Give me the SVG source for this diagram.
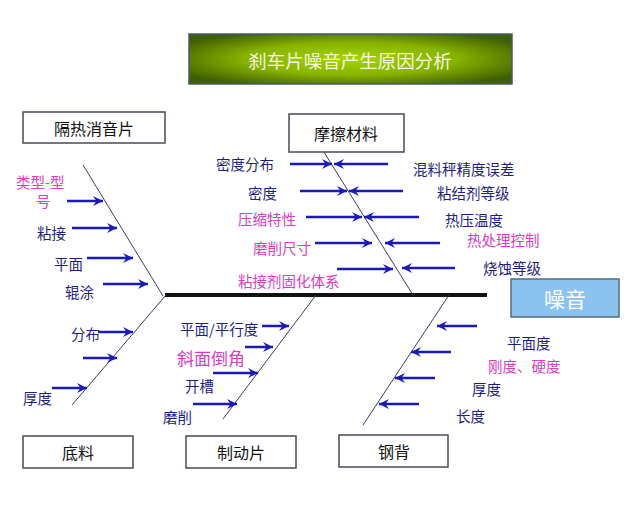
<svg xmlns="http://www.w3.org/2000/svg" width="640" height="512" viewBox="0 0 640 512">
<defs>
<radialGradient id="tg" cx="50%" cy="50%" r="60%">
<stop offset="0" stop-color="#a6d400"/>
<stop offset="0.55" stop-color="#86b200"/>
<stop offset="1" stop-color="#3f6000"/>
</radialGradient>
<marker id="ah" viewBox="0 0 10 10" refX="10" refY="5" markerWidth="11" markerHeight="10" markerUnits="userSpaceOnUse" orient="auto">
<path d="M0,0 L10,5 L0,10 L3.5,5 z" fill="#1a1ab8"/>
</marker>
</defs>
<style>
text{font-family:"Noto Sans CJK SC","Liberation Sans",sans-serif;dominant-baseline:central}
.box{fill:#fff;stroke:#4a4a5a;stroke-width:1.5}
.bt{font-size:16px;fill:#111;text-anchor:middle}
.lb{font-size:14.5px;fill:#1e1e80}
.mg{font-size:14.5px;fill:#d83cc4}
.ar{stroke:#1a1ab8;stroke-width:2.5;fill:none;marker-end:url(#ah)}
.sl{stroke:#3a3f60;stroke-width:1;fill:none}
</style>
<rect width="640" height="512" fill="#fff"/>
<g id="title">
<rect x="189" y="34" width="323" height="50" fill="url(#tg)" stroke="#4a5a6a" stroke-width="1.5"/>
<text x="350" y="60" style="font-size:18.5px;fill:#f4f6e0;text-anchor:middle">刹车片噪音产生原因分析</text>
</g>
<g id="connectors">
<line x1="165" y1="295" x2="487" y2="295" stroke="#111" stroke-width="4"/>
<line class="sl" x1="83" y1="165" x2="163" y2="296"/>
<line class="sl" x1="166" y1="295" x2="72" y2="405"/>
<line class="sl" x1="322" y1="149" x2="413" y2="295"/>
<line class="sl" x1="316" y1="295" x2="223" y2="419"/>
<line class="sl" x1="449" y1="295" x2="363" y2="425"/>
<line class="ar" x1="67" y1="201" x2="103" y2="201"/>
<line class="ar" x1="72" y1="228" x2="117" y2="228"/>
<line class="ar" x1="87" y1="258" x2="133" y2="258"/>
<line class="ar" x1="103" y1="284" x2="148" y2="284"/>
<line class="ar" x1="98" y1="332" x2="133" y2="332"/>
<line class="ar" x1="83" y1="358" x2="117" y2="358"/>
<line class="ar" x1="52" y1="388" x2="87" y2="388"/>
<line class="ar" x1="262" y1="326" x2="289" y2="326"/>
<line class="ar" x1="245" y1="347" x2="273" y2="347"/>
<line class="ar" x1="213" y1="373" x2="258" y2="373"/>
<line class="ar" x1="193" y1="404" x2="237" y2="404"/>
<line class="ar" x1="477" y1="326" x2="437" y2="326"/>
<line class="ar" x1="451" y1="352" x2="411" y2="352"/>
<line class="ar" x1="435" y1="378" x2="395" y2="378"/>
<line class="ar" x1="419" y1="404" x2="379" y2="404"/>
<line class="ar" x1="290" y1="164" x2="332" y2="164"/>
<line class="ar" x1="388" y1="164" x2="334" y2="164"/>
<line class="ar" x1="300" y1="191" x2="347" y2="191"/>
<line class="ar" x1="403" y1="191" x2="349" y2="191"/>
<line class="ar" x1="306" y1="217" x2="362" y2="217"/>
<line class="ar" x1="419" y1="217" x2="364" y2="217"/>
<line class="ar" x1="315" y1="243" x2="372" y2="243"/>
<line class="ar" x1="440" y1="243" x2="385" y2="243"/>
<line class="ar" x1="337" y1="269" x2="393" y2="269"/>
<line class="ar" x1="455" y1="268" x2="402" y2="268"/>
</g>
<g id="n-gerexiaoyin">
<rect class="box" x="23" y="112" width="142" height="31"/>
<text class="bt" x="94" y="128">隔热消音片</text>
</g>
<g id="n-mocacailiao">
<rect class="box" x="289" y="114" width="115" height="38"/>
<text class="bt" x="346" y="133">摩擦材料</text>
</g>
<g id="n-diliao">
<rect class="box" x="23" y="436" width="110" height="32"/>
<text class="bt" x="78" y="452">底料</text>
</g>
<g id="n-zhidongpian">
<rect class="box" x="186" y="436" width="110" height="32"/>
<text class="bt" x="241" y="452">制动片</text>
</g>
<g id="n-gangbei">
<rect class="box" x="339" y="435" width="109" height="32"/>
<text class="bt" x="394" y="451">钢背</text>
</g>
<g id="n-zaoyin">
<rect x="511" y="279" width="108" height="38" fill="#8cc2ee" stroke="#5a6a80" stroke-width="1.5"/>
<text x="565" y="298" style="font-size:21px;fill:#fff;text-anchor:middle">噪音</text>
</g>
<g id="labels">
<text class="mg" x="16" y="181">类型-型</text>
<text class="mg" x="36" y="200">号</text>
<text class="lb" x="37" y="232">粘接</text>
<text class="lb" x="54" y="263">平面</text>
<text class="lb" x="65" y="291">辊涂</text>
<text class="lb" x="71" y="333">分布</text>
<text class="lb" x="23" y="397">厚度</text>
<text class="lb" x="180" y="328">平面/平行度</text>
<text class="mg" x="177" y="357" style="font-size:17px">斜面倒角</text>
<text class="lb" x="185" y="385">开槽</text>
<text class="lb" x="163" y="416">磨削</text>
<text class="lb" x="507" y="342">平面度</text>
<text class="mg" x="488" y="365">刚度、硬度</text>
<text class="lb" x="472" y="388">厚度</text>
<text class="lb" x="456" y="415">长度</text>
<text class="lb" x="216" y="163">密度分布</text>
<text class="lb" x="248" y="192">密度</text>
<text class="mg" x="238" y="218">压缩特性</text>
<text class="mg" x="253" y="247">磨削尺寸</text>
<text class="mg" x="238" y="280">粘接剂固化体系</text>
<text class="lb" x="413" y="168">混料秤精度误差</text>
<text class="lb" x="437" y="192">粘结剂等级</text>
<text class="lb" x="445" y="219">热压温度</text>
<text class="mg" x="467" y="239">热处理控制</text>
<text class="lb" x="483" y="267">烧蚀等级</text>
</g>
</svg>
